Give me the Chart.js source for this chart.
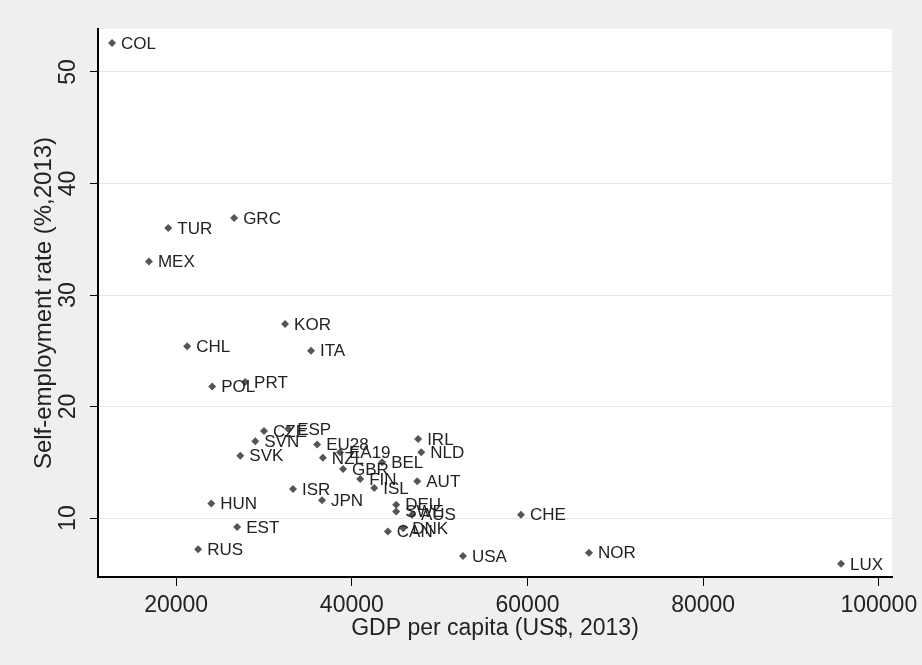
<!DOCTYPE html>
<html>
<head>
<meta charset="utf-8">
<title>Self-employment rate vs GDP per capita</title>
<script src="https://cdn.jsdelivr.net/npm/chart.js@4.4.0/dist/chart.umd.min.js"></script>
<style>
    html, body { margin: 0; padding: 0; background: #efefef; }
    #grafico { display: block; }
</style>
</head>
<body>
<canvas id="grafico" width="922" height="665"></canvas>
<script>
// valores
const paises = ["COL", "TUR", "GRC", "MEX", "KOR", "CHL", "ITA", "POL", "PRT",
    "CZE", "ESP", "SVN", "SVK", "EU28", "NZL", "EA19", "GBR", "BEL", "FIN", "ISL",
    "IRL", "NLD", "AUT", "ISR", "JPN", "HUN", "EST", "DEU", "SWE", "AUS", "CHE",
    "DNK", "CAN", "USA", "NOR", "RUS", "LUX"];
const pibPerCapita = [12700, 19100, 26600, 16900, 32400, 21250, 35350, 24100, 27850,
    30000, 32750, 29000, 27300, 36050, 36700, 38650, 39000, 43450, 40950, 42550,
    47550, 47900, 47450, 33300, 36600, 24000, 26950, 45050, 45050, 46850, 59250,
    45850, 44100, 52650, 67000, 22500, 95700];
const taxaAutonomos = [52.6, 36.0, 36.9, 33.0, 27.4, 25.4, 25.0, 21.8, 22.2,
    17.8, 18.0, 16.9, 15.6, 16.6, 15.4, 15.9, 14.4, 15.0, 13.5, 12.7,
    17.1, 15.9, 13.3, 12.6, 11.6, 11.3, 9.2, 11.2, 10.6, 10.3, 10.3,
    9.1, 8.8, 6.6, 6.9, 7.2, 5.9];
const xTicks = [20000, 40000, 60000, 80000, 100000];
const yTicks = [10, 20, 30, 40, 50];

const fonte = "'Liberation Sans', Arial, sans-serif";
Chart.defaults.font.family = fonte;

const fundoPlot = {
    id: "fundoPlot",
    beforeDraw(chart) {
        const { ctx, chartArea } = chart;
        ctx.save();
        ctx.fillStyle = "#ffffff";
        ctx.fillRect(chartArea.left, chartArea.top, chartArea.right - chartArea.left, chartArea.bottom - chartArea.top);
        ctx.restore();
    }
};

// rotulos do eixo y ficam na vertical, como no Stata
const rotuloEixoY = {
    id: "rotuloEixoY",
    afterDraw(chart) {
        const escala = chart.scales.y;
        const ctx = chart.ctx;
        ctx.save();
        ctx.font = "23px " + fonte;
        ctx.fillStyle = "#222222";
        ctx.textAlign = "center";
        ctx.textBaseline = "middle";
        yTicks.forEach(v => {
            ctx.save();
            ctx.translate(escala.left + 69, escala.getPixelForValue(v));
            ctx.rotate(-Math.PI / 2);
            ctx.fillText(String(v), 0, 0);
            ctx.restore();
        });
        ctx.restore();
    }
};

const rotuloPontos = {
    id: "rotuloPontos",
    afterDatasetsDraw(chart) {
        const ctx = chart.ctx;
        const pontos = chart.getDatasetMeta(0).data;
        ctx.save();
        ctx.font = "17px " + fonte;
        ctx.fillStyle = "#222222";
        ctx.textAlign = "left";
        ctx.textBaseline = "middle";
        pontos.forEach((p, i) => {
            ctx.fillText(paises[i], p.x + 9, p.y + 1);
        });
        ctx.restore();
    }
};

function criarGrafico() {
    const ctx = document.getElementById("grafico").getContext("2d");
    const dados = paises.map((p, i) => ({ x: pibPerCapita[i], y: taxaAutonomos[i] }));

    new Chart(ctx, {
        type: "scatter",
        data: {
            datasets: [{
                data: dados,
                pointStyle: "rectRot",
                pointRadius: 4,
                pointBorderWidth: 0,
                backgroundColor: "#555555",
                borderColor: "#555555"
            }]
        },
        options: {
            responsive: false,
            animation: false,
            devicePixelRatio: 1,
            events: [],
            layout: {
                padding: { top: 29, right: 30, left: 0, bottom: 0 }
            },
            plugins: {
                legend: { display: false },
                tooltip: { enabled: false }
            },
            scales: {
                x: {
                    type: "linear",
                    min: 11100,
                    max: 101500,
                    afterBuildTicks: s => { s.ticks = xTicks.map(v => ({ value: v })); },
                    afterFit: s => {
                        s.height = 88;
                        s.paddingLeft = 0;
                        s.paddingRight = 0;
                    },
                    grid: {
                        drawOnChartArea: false,
                        drawTicks: true,
                        tickLength: 9,
                        color: "#000000",
                        tickColor: "#000000"
                    },
                    border: { display: true, color: "#000000", width: 2 },
                    ticks: {
                        font: { size: 23 },
                        color: "#222222",
                        padding: 6,
                        maxRotation: 0,
                        autoSkip: false,
                        callback: v => String(v)
                    },
                    title: {
                        display: true,
                        text: "GDP per capita (US$, 2013)",
                        font: { size: 23 },
                        color: "#222222",
                        padding: { top: 0, bottom: 23 }
                    }
                },
                y: {
                    type: "linear",
                    min: 4.72,
                    max: 53.85,
                    afterBuildTicks: s => { s.ticks = yTicks.map(v => ({ value: v })); },
                    afterFit: s => {
                        s.width = 98;
                        s.paddingTop = 0;
                        s.paddingBottom = 0;
                    },
                    grid: {
                        color: "#e6e6e6",
                        lineWidth: 1,
                        drawTicks: true,
                        tickLength: 8,
                        tickColor: "#000000"
                    },
                    border: { display: true, color: "#000000", width: 2 },
                    ticks: { display: false },
                    title: {
                        display: true,
                        text: "Self-employment rate (%,2013)",
                        font: { size: 24 },
                        color: "#222222",
                        padding: { top: 30, bottom: 0 }
                    }
                }
            }
        },
        plugins: [fundoPlot, rotuloEixoY, rotuloPontos]
    });
}

criarGrafico();
</script>
</body>
</html>
